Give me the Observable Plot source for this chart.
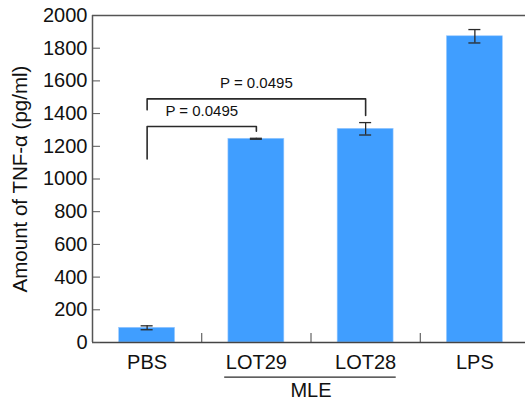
<!DOCTYPE html>
<html>
<head>
<meta charset="utf-8">
<script src="https://cdn.jsdelivr.net/npm/d3@7"></script>
<script src="https://cdn.jsdelivr.net/npm/@observablehq/plot@0.6"></script>
<style>
  html, body { margin: 0; padding: 0; background: #fff; overflow: hidden; }
  svg { display: block; }
</style>
</head>
<body>
<div id="chart"></div>
<script>
const categories = ["PBS", "LOT29", "LOT28", "LPS"];
const values = [90, 1246, 1307, 1873];
const errors = [12, 3, 38, 41];
const yTicks = [0, 200, 400, 600, 800, 1000, 1200, 1400, 1600, 1800, 2000];
const yLabel = "Amount of TNF-α (pg/ml)";
const groupLabel = "MLE";
const pLabels = ["P = 0.0495", "P = 0.0495"];
// brackets: [from index, to index, top y, left leg bottom, right leg bottom]
const brackets = [
  [0, 2, 1490, 1423, 1388],
  [0, 1, 1321, 1123, 1292]
];

const data = categories.map((c, i) => ({c, i, v: values[i], e: errors[i]}));
const font = "'Liberation Sans', Arial, Helvetica, sans-serif";
const ink = "#2a2a2a";
const halfBar = 0.256;
const halfCap = 0.055;

const bracketLines = brackets.flatMap(([a, b, top, l, r], k) => [
  {k, x: a, y: l}, {k, x: a, y: top}, {k, x: b, y: top}, {k, x: b, y: r}
]);
const bracketText = brackets.map(([a, b, top], k) => ({x: (a + b) / 2, y: top, t: pLabels[k]}));

const chart = Plot.plot({
  width: 525,
  height: 402,
  marginLeft: 92,
  marginRight: 0,
  marginTop: 15,
  marginBottom: 60,
  style: {fontFamily: font, background: "#fff", overflow: "visible"},
  x: {type: "linear", domain: [-0.5, 3.5], range: [92, 529], axis: null},
  y: {domain: [0, 2000], range: [342, 15], axis: null},
  marks: [
    Plot.rectY(data, {x1: d => d.i - halfBar, x2: d => d.i + halfBar, y: "v", fill: "#409eff", stroke: "#9ccbff", strokeWidth: 0.6}),
    Plot.ruleX(data, {x: "i", y1: d => d.v - d.e, y2: d => d.v + d.e, stroke: ink, strokeWidth: 1.3}),
    Plot.ruleY(data, {x1: d => d.i - halfCap, x2: d => d.i + halfCap, y: d => d.v + d.e, stroke: ink, strokeWidth: 1.3}),
    Plot.ruleY(data, {x1: d => d.i - halfCap, x2: d => d.i + halfCap, y: d => d.v - d.e, stroke: ink, strokeWidth: 1.3}),
    Plot.line(bracketLines, {x: "x", y: "y", z: "k", stroke: ink, strokeWidth: 1.6, curve: "linear"}),
    Plot.text(bracketText, {x: "x", y: "y", text: "t", dy: -11, fontSize: 15, fill: "#111", lineAnchor: "bottom"}),
    // frame
    Plot.ruleY([0], {stroke: "#444", strokeWidth: 1.5}),
    Plot.ruleY([2000], {stroke: "#555", strokeWidth: 1.5}),
    Plot.ruleX([-0.5], {stroke: "#555", strokeWidth: 1.5}),
    // y axis
    Plot.axisY(yTicks, {tickSize: -8, tickPadding: 13, fontSize: 20, stroke: "#555", fill: "#111", tickFormat: d => String(d), label: null}),
    // x band separators (inward ticks)
    Plot.axisX([0.5, 1.5, 2.5], {tickSize: -9, tickFormat: () => "", stroke: "#444", label: null}),
    // category labels
    Plot.text(data, {x: "i", y: 0, text: "c", dy: 20, fontSize: 20, fill: "#111", lineAnchor: "middle"}),
    // group
    Plot.ruleY([-212], {x1: 0.71, x2: 2.28, stroke: ink, strokeWidth: 1.3, clip: false}),
    Plot.text([groupLabel], {x: 1.5, y: -294, text: d => d, fontSize: 20, fill: "#111", lineAnchor: "middle"}),
    // y label
    Plot.text([yLabel], {frameAnchor: "left", text: d => d, rotate: -90, dx: -72, fontSize: 20.5, fill: "#111", textAnchor: "middle", lineAnchor: "middle"})
  ]
});
document.getElementById("chart").appendChild(chart);
</script>
</body>
</html>
